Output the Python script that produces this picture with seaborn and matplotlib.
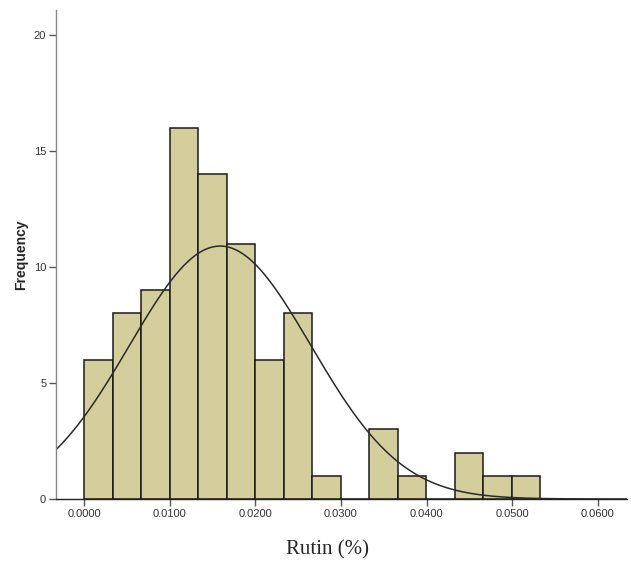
import numpy as np
import pandas as pd
import matplotlib
matplotlib.use("Agg")
import matplotlib.pyplot as plt
import seaborn as sns

# histogram bins (Rutin %, 16 bins of equal width starting at 0)
bin_start = 0.0
bin_width = 0.00333
counts = [6, 8, 9, 16, 14, 11, 6, 8, 1, 0, 3, 1, 0, 2, 1, 1]

# normal curve parameters
curve_mean = 0.0159
curve_sd = 0.0106

x_ticks = [0.0, 0.01, 0.02, 0.03, 0.04, 0.05, 0.06]
y_ticks = [0, 5, 10, 15, 20]


def main():
    sns.set_style("white")
    plt.rcParams["font.family"] = ["Liberation Sans", "DejaVu Sans"]

    edges = [bin_start + bin_width * i for i in range(len(counts) + 1)]
    centers = [(edges[i] + edges[i + 1]) / 2 for i in range(len(counts))]
    df = pd.DataFrame({"rutin": centers, "n": counts})

    fig = plt.figure(figsize=(6.31, 5.63), dpi=100)
    ax = fig.add_axes([0.0887, 0.1137, 0.905, 0.8685])

    sns.histplot(data=df, x="rutin", weights="n", bins=edges, ax=ax,
                 color="#D3CE9B", alpha=1.0, edgecolor="#1a1a1a", linewidth=1.1)

    # fitted normal curve, scaled to counts
    n_total = sum(counts)
    xs = np.linspace(-0.004, 0.064, 400)
    ys = n_total * bin_width / (curve_sd * np.sqrt(2 * np.pi)) * \
        np.exp(-0.5 * ((xs - curve_mean) / curve_sd) ** 2)
    ax.plot(xs, ys, color="#2a2a2a", linewidth=1.1)

    ax.set_xlim(-0.00327, 0.0634)
    ax.set_ylim(0, 21.08)
    ax.set_xticks(x_ticks)
    ax.set_xticklabels([f"{t:.4f}" for t in x_ticks])
    ax.set_yticks(y_ticks)

    ax.tick_params(axis="both", direction="out", length=5, width=1,
                   labelsize=8, labelcolor="#333333", color="#555555",
                   bottom=True, left=True, pad=2)

    for side in ["top", "right"]:
        ax.spines[side].set_visible(False)
    ax.spines["left"].set_color("#888888")
    ax.spines["bottom"].set_color("#222222")
    ax.spines["left"].set_linewidth(1.0)
    ax.spines["bottom"].set_linewidth(1.0)

    ax.set_xlabel("Rutin (%)", family=["Liberation Serif", "DejaVu Serif"],
                  fontsize=15)
    ax.xaxis.set_label_coords(0.476, -0.085)
    ax.set_ylabel("Frequency", fontweight="bold", fontsize=10)
    ax.yaxis.set_label_coords(-0.048, 0.5)

    fig.savefig("out.png", dpi=100)


if __name__ == "__main__":
    main()
